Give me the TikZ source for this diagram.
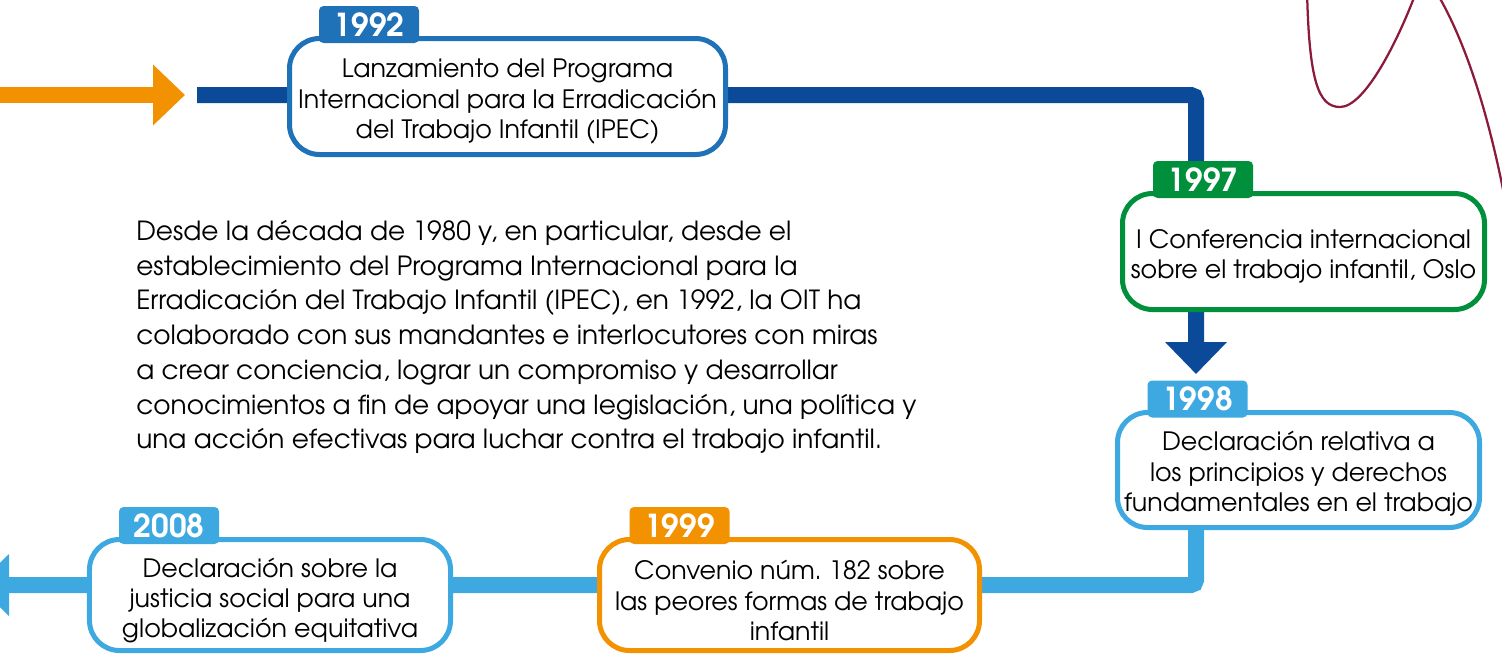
\documentclass[tikz,border=0pt]{standalone}
\usepackage{fontspec}
\setmainfont{texgyreadventor}[Extension=.otf,UprightFont=*-regular,BoldFont=*-bold,
  ItalicFont=*-italic,BoldItalicFont=*-bolditalic]
\usetikzlibrary{arrows.meta,backgrounds}
\definecolor{ilodark}{HTML}{0B4A99}
\definecolor{ilomid}{HTML}{1F71B8}
\definecolor{ilogreen}{HTML}{00903C}
\definecolor{ilolight}{HTML}{3EA9E0}
\definecolor{iloorange}{HTML}{F39200}
\definecolor{ilored}{HTML}{8C1A3A}

\begin{document}
\begin{tikzpicture}[x=0.2mm,y=-0.2mm,
    event/.style={draw,line width=1mm,fill=white,rounded corners=6mm,inner sep=0pt},
    eventtext/.style={align=center,inner sep=0pt,font=\fontsize{14.4}{17.3}\selectfont},
    yeartab/.style={rounded corners=0.9mm,minimum width=20mm,minimum height=7.4mm,inner sep=0pt,
      text=white,font=\fontsize{18}{18}\selectfont\bfseries},
    timeline/.style={line width=3.2mm,rounded corners=1mm}]
  \useasboundingbox (0,0) rectangle (1502,654);

  % event boxes
  \node[event,draw=ilomid,minimum width=87.2mm,minimum height=23.2mm] (ev92) at (507.5,96.5) {};
  \node[event,draw=ilogreen,minimum width=72.4mm,minimum height=23.2mm] (ev97) at (1303.5,251.5) {};
  \node[event,draw=ilolight,minimum width=72.4mm,minimum height=23mm] (ev98) at (1298.5,470) {};
  \node[event,draw=iloorange,minimum width=76mm,minimum height=22.2mm] (ev99) at (789.5,595) {};
  \node[event,draw=ilolight,minimum width=72.2mm,minimum height=22.2mm] (ev08) at (270,595) {};

  % event texts
  \node[eventtext] (txt92) at ([yshift=-1mm]ev92.center)
    {Lanzamiento del Programa\\Internacional para la Erradicación\\del Trabajo Infantil (IPEC)};
  \node[eventtext] (txt97) at ([yshift=-1mm]ev97.center)
    {I Conferencia internacional\\sobre el trabajo infantil, Oslo};
  \node[eventtext] (txt98) at ([yshift=-0.8mm]ev98.center)
    {Declaración relativa a\\los principios y derechos\\fundamentales en el trabajo};
  \node[eventtext] (txt99) at ([yshift=-1.1mm]ev99.center)
    {Convenio núm.\ 182 sobre\\las peores formas de trabajo\\infantil};
  \node[eventtext] (txt08) at ([yshift=-1.1mm]ev08.center)
    {Declaración sobre la\\justicia social para una\\globalización equitativa};

  % year tabs
  \node[yeartab,fill=ilomid] (yr92) at (369,24.5) {1992};
  \node[yeartab,fill=ilogreen] (yr97) at (1203,179.5) {1997};
  \node[yeartab,fill=ilolight] (yr98) at (1197.5,399) {1998};
  \node[yeartab,fill=iloorange] (yr99) at (679.5,525.5) {1999};
  \node[yeartab,fill=ilolight] (yr08) at (169,525.5) {2008};

  \node[anchor=north west,inner sep=0pt,align=left,font=\fontsize{15}{19.75}\selectfont] (intro) at (136,220)
    {Desde la década de 1980 y, en particular, desde el\\
     establecimiento del Programa Internacional para la\\
     Erradicación del Trabajo Infantil (IPEC), en 1992, la OIT ha\\
     colaborado con sus mandantes e interlocutores con miras\\
     a crear conciencia, lograr un compromiso y desarrollar\\
     conocimientos a fin de apoyar una legislación, una política y\\
     una acción efectivas para luchar contra el trabajo infantil.};

  \coordinate (in0) at (0,95);
  \coordinate (in1) at (185,95);
  \coordinate (start) at (197,95);
  \coordinate (bend1) at (1196,95);
  \coordinate (end1) at (1196,374);
  \coordinate (bend2) at (1196,585);
  \coordinate (out0) at (-23,585);

  \begin{scope}[on background layer]
    \fill[white] (0,0) rectangle (1502,654);
    \draw[iloorange,line width=3.2mm,-{Triangle[length=6.4mm,width=11.8mm]}] (in0) -- (in1);
    \draw[ilodark,timeline,-{Triangle[length=6.4mm,width=12mm]}] (start) -- (bend1) -- (end1);
    \draw[ilolight,timeline,-{Triangle[length=6.4mm,width=12mm]}] (ev98.south -| bend2) -- (bend2) -- (out0);
  \end{scope}

  % red line in the corner
  \draw[ilored,line width=0.45mm] (1307,-10) .. controls (1309,80) and (1318,107) .. (1340,107)
    .. controls (1365,107) and (1398,40) .. (1415,-5);
  \draw[ilored,line width=0.45mm] (1438,-5) .. controls (1470,50) and (1492,130) .. (1506,205);
\end{tikzpicture}
\end{document}
